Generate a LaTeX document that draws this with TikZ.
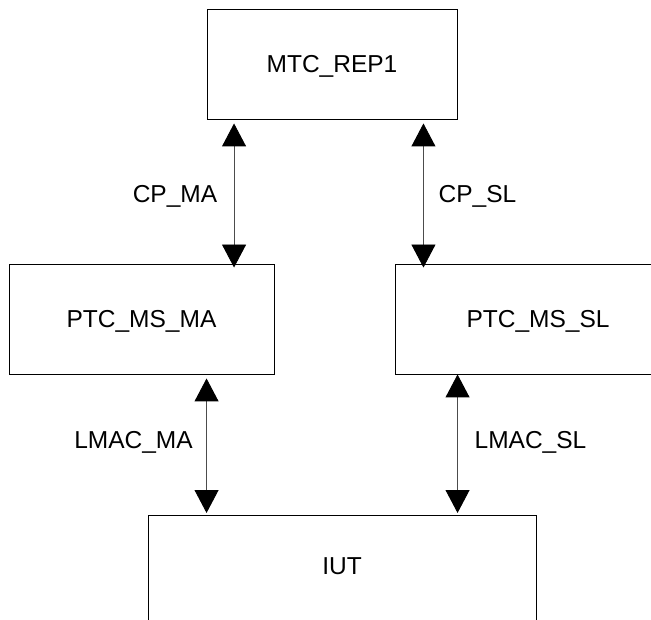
\documentclass[tikz,border=0pt]{standalone}
\usepackage{fontspec}
\setmainfont{Liberation Sans}
\usetikzlibrary{arrows.meta}
\begin{document}
\begin{tikzpicture}[x=1pt,y=-1pt,
  box/.style={draw=black,line width=0.9pt,rectangle,inner sep=0pt,
    text height=17.5pt,text depth=0pt,font=\fontsize{24.5}{29}\selectfont},
  lbl/.style={inner sep=0pt,font=\fontsize{24.5}{29}\selectfont},
  biarr/.style={draw=black!70,line width=0.9pt,
    {Triangle[width=24pt,length=23pt,color=black,fill=black]}-{Triangle[width=24pt,length=23pt,color=black,fill=black]}}]
\useasboundingbox (0,0) rectangle (651,620);
\clip (0,0) rectangle (651,620);
\node[box,minimum width=250pt,minimum height=110pt] (mtc) at (332,64) {MTC\_REP1};
\node[box,minimum width=265pt,minimum height=110pt] (ptcma) at (141.5,319) {PTC\_MS\_MA};
\node[box,minimum width=286pt,minimum height=110pt] (ptcsl) at (538,319) {PTC\_MS\_SL};
\node[box,minimum width=388pt,minimum height=170pt,anchor=north] (iut) at (342,515) {};
\node[lbl,anchor=base] (iutlbl) at ([yshift=-59pt]iut.north) {IUT};
\draw[biarr] ([xshift=27.5pt,yshift=-4pt]mtc.south west) -- ([xshift=27.5pt,yshift=-4pt]mtc.south west |- ptcma.north);
\draw[biarr] ([xshift=-34pt,yshift=-4pt]mtc.south east) -- ([xshift=-34pt,yshift=-4pt]mtc.south east |- ptcsl.north);
\draw[biarr] ([xshift=198pt,yshift=-4pt]ptcma.south west) -- ([xshift=198pt,yshift=2pt]ptcma.south west |- iut.north);
\draw[biarr] ([xshift=63pt]ptcsl.south west) -- ([xshift=63pt,yshift=2pt]ptcsl.south west |- iut.north);
\node[lbl,anchor=base] (cpma) at (175,203) {CP\_MA};
\node[lbl,anchor=base] (cpsl) at (477.5,203) {CP\_SL};
\node[lbl,anchor=base] (lmacma) at (133.5,449) {LMAC\_MA};
\node[lbl,anchor=base] (lmacsl) at (530.5,449) {LMAC\_SL};
\end{tikzpicture}
\end{document}
